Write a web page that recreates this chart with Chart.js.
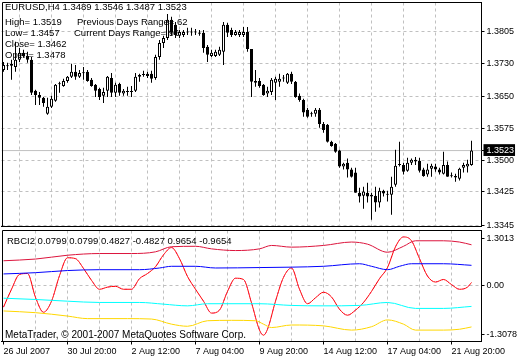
<!DOCTYPE html>
<html lang="en">
<head>
<meta charset="UTF-8">
<script src="https://cdn.jsdelivr.net/npm/chart.js@4.4.0/dist/chart.umd.min.js"></script>
<style>
  body { margin: 0; background: #fff; }
  #wrap { position: relative; width: 520px; height: 360px; overflow: hidden; font-family: "Liberation Sans", Arial, sans-serif; }
  #main { position: absolute; left: 0; top: 0; }
  #sub { position: absolute; left: 0; top: 228px; }
  .txt { position: absolute; white-space: pre; font-size: 9.5px; line-height: 11px; color: #000; }
</style>
</head>
<body>
<div id="wrap">
  <canvas id="main" width="520" height="228"></canvas>
  <canvas id="sub" width="520" height="132"></canvas>
  <div class="txt" style="left:5px;top:1px">EURUSD,H4 1.3489 1.3546 1.3487 1.3523</div>
  <div class="txt" style="left:5px;top:16px">High= 1.3519</div>
  <div class="txt" style="left:77px;top:16px">Previous Days Range= 62</div>
  <div class="txt" style="left:5px;top:27px">Low= 1.3457</div>
  <div class="txt" style="left:74px;top:27px">Current Days Range= 96</div>
  <div class="txt" style="left:5px;top:38px">Close= 1.3462</div>
  <div class="txt" style="left:5px;top:49px">Open= 1.3478</div>
  <div class="txt" style="left:7px;top:235px">RBCI2 0.0799 0.0799 0.4827 -0.4827 0.9654 -0.9654</div>
  <div class="txt" style="left:5px;top:329px;font-size:10px">MetaTrader, © 2001-2007 MetaQuotes Software Corp.</div>
</div>
<script>
// EURUSD H4 candles, one entry per bar
const open = [1.3714,1.3724,1.3724,1.3721,1.3738,1.3755,1.3747,1.3738,1.3665,1.3655,
  1.3648,1.3610,1.3627,1.3641,1.3681,1.3676,1.3688,1.3698,1.3710,1.3698,
  1.3707,1.3710,1.3691,1.3679,1.3669,1.3653,1.3665,1.3695,1.3660,1.3681,
  1.3658,1.3662,1.3663,1.3665,1.3698,1.3702,1.3705,1.3705,1.3695,1.3745,
  1.3778,1.3790,1.3833,1.3821,1.3795,1.3797,1.3804,1.3803,1.3804,1.3803,
  1.3802,1.3769,1.3747,1.3747,1.3750,1.3757,1.3821,1.3809,1.3797,1.3797,
  1.3797,1.3804,1.3764,1.3688,1.3688,1.3679,1.3658,1.3662,1.3684,1.3686,
  1.3695,1.3684,1.3705,1.3686,1.3653,1.3643,1.3620,1.3610,1.3610,1.3620,
  1.3586,1.3584,1.3544,1.3539,1.3523,1.3485,1.3494,1.3478,1.3471,1.3423,
  1.3416,1.3423,1.3414,1.3416,1.3400,1.3428,1.3418,1.3418,1.3442,1.3489,
  1.3489,1.3475,1.3494,1.3501,1.3499,1.3478,1.3466,1.3480,1.3485,1.3478,
  1.3468,1.3489,1.3463,1.3463,1.3456,1.3482,1.3485,1.3489];
const high = [1.3733,1.3731,1.3738,1.3781,1.3766,1.3762,1.3757,1.3745,1.3667,1.3662,
  1.3650,1.3648,1.3653,1.3681,1.3686,1.3693,1.3700,1.3729,1.3726,1.3714,
  1.3721,1.3714,1.3695,1.3681,1.3672,1.3672,1.3700,1.3707,1.3684,1.3684,
  1.3669,1.3674,1.3676,1.3707,1.3705,1.3712,1.3710,1.3712,1.3750,1.3785,
  1.3795,1.3847,1.3840,1.3828,1.3809,1.3809,1.3814,1.3814,1.3811,1.3809,
  1.3809,1.3773,1.3762,1.3762,1.3769,1.3828,1.3826,1.3814,1.3809,1.3809,
  1.3816,1.3816,1.3764,1.3714,1.3695,1.3681,1.3674,1.3695,1.3698,1.3705,
  1.3702,1.3707,1.3710,1.3688,1.3658,1.3646,1.3624,1.3615,1.3624,1.3624,
  1.3591,1.3586,1.3546,1.3541,1.3525,1.3494,1.3504,1.3482,1.3482,1.3435,
  1.3437,1.3447,1.3423,1.3437,1.3435,1.3430,1.3428,1.3461,1.3525,1.3544,
  1.3494,1.3506,1.3504,1.3508,1.3506,1.3482,1.3492,1.3492,1.3492,1.3482,
  1.3520,1.3497,1.3471,1.3468,1.3482,1.3494,1.3501,1.3546];
const low = [1.3710,1.3714,1.3691,1.3710,1.3733,1.3743,1.3731,1.3655,1.3631,1.3631,
  1.3627,1.3608,1.3624,1.3639,1.3660,1.3674,1.3684,1.3695,1.3691,1.3695,
  1.3691,1.3686,1.3674,1.3650,1.3643,1.3636,1.3650,1.3650,1.3650,1.3653,
  1.3653,1.3653,1.3650,1.3662,1.3686,1.3698,1.3695,1.3684,1.3691,1.3738,
  1.3766,1.3785,1.3795,1.3790,1.3790,1.3792,1.3797,1.3795,1.3797,1.3795,
  1.3755,1.3733,1.3745,1.3745,1.3747,1.3726,1.3792,1.3792,1.3795,1.3792,
  1.3792,1.3757,1.3650,1.3674,1.3672,1.3653,1.3650,1.3655,1.3643,1.3674,
  1.3686,1.3681,1.3681,1.3648,1.3639,1.3603,1.3601,1.3603,1.3603,1.3577,
  1.3565,1.3542,1.3532,1.3518,1.3482,1.3478,1.3459,1.3459,1.3423,1.3400,
  1.3385,1.3400,1.3359,1.3378,1.3388,1.3414,1.3402,1.3371,1.3437,1.3485,
  1.3466,1.3473,1.3489,1.3489,1.3471,1.3461,1.3461,1.3461,1.3473,1.3466,
  1.3466,1.3461,1.3459,1.3449,1.3452,1.3471,1.3471,1.3487];
const close = [1.3726,1.3723,1.3729,1.3738,1.3755,1.3747,1.3738,1.3660,1.3655,1.3648,
  1.3636,1.3627,1.3646,1.3679,1.3680,1.3688,1.3698,1.3710,1.3698,1.3707,
  1.3706,1.3688,1.3676,1.3665,1.3650,1.3662,1.3698,1.3660,1.3679,1.3660,
  1.3665,1.3663,1.3662,1.3698,1.3702,1.3703,1.3700,1.3693,1.3745,1.3778,
  1.3790,1.3833,1.3802,1.3797,1.3804,1.3804,1.3803,1.3804,1.3803,1.3800,
  1.3766,1.3750,1.3755,1.3757,1.3762,1.3821,1.3802,1.3797,1.3804,1.3804,
  1.3804,1.3764,1.3686,1.3684,1.3676,1.3655,1.3665,1.3691,1.3693,1.3693,
  1.3694,1.3705,1.3686,1.3650,1.3643,1.3613,1.3603,1.3609,1.3620,1.3586,
  1.3572,1.3544,1.3534,1.3520,1.3485,1.3492,1.3478,1.3461,1.3423,1.3414,
  1.3426,1.3414,1.3418,1.3400,1.3428,1.3421,1.3419,1.3437,1.3487,1.3490,
  1.3473,1.3494,1.3501,1.3497,1.3475,1.3463,1.3478,1.3487,1.3478,1.3471,
  1.3489,1.3461,1.3462,1.3459,1.3480,1.3489,1.3492,1.3523];

// RBCI2 indicator, read at the bars listed
const rbciBars = [0,2,4,6,8,10,12,14,16,18,20,22,24,26,28,30,32,34,36,38,40,42,44,46,48,50,52,54,56,58,60,62,64,65,66,68,70,72,74,76,78,80,82,84,86,88,90,92,94,96,98,100,102,104,106,108,110,112,114,116,117];
const rbciVals = [-0.50,-0.08,0.27,0.29,-0.27,-0.62,-0.36,0.24,0.66,0.64,0.41,0.13,-0.08,-0.03,-0.01,-0.08,-0.08,0.17,0.29,0.45,0.73,0.90,0.64,0.22,-0.08,-0.36,-0.64,-0.57,-0.13,0.18,0.15,-0.40,-1.04,-1.16,-1.02,-0.36,0.20,0.42,-0.08,-0.42,-0.28,-0.15,-0.26,-0.55,-0.69,-0.57,-0.39,-0.13,0.17,0.43,0.92,1.15,1.06,0.64,0.23,0.09,0.15,0.03,-0.08,-0.03,0.0799];
const upper2Bars = [0,8,16,24,32,38,42,48,52,58,64,67,72,80,87,91,96,100,103,110,114,117];
const upper2Vals = [0.59,0.63,0.72,0.76,0.76,0.80,0.92,0.93,0.87,0.83,0.87,0.95,0.91,0.95,1.03,0.98,0.79,0.93,1.06,1.06,1.03,0.9654];
const upper1Bars = [0,8,16,24,34,39,42,48,53,64,72,80,89,92,96,99,102,110,117];
const upper1Vals = [0.28,0.31,0.36,0.38,0.38,0.42,0.46,0.46,0.42,0.43,0.44,0.46,0.52,0.46,0.38,0.46,0.52,0.52,0.4827];
const lower1Bars = [0,8,16,24,34,40,46,51,64,72,80,89,96,103,110,117];
const lower1Vals = [-0.29,-0.32,-0.36,-0.39,-0.39,-0.43,-0.47,-0.42,-0.42,-0.46,-0.47,-0.46,-0.39,-0.53,-0.53,-0.4827];
const lower2Bars = [0,8,16,21,31,37,42,46,51,57,63,65,67,72,80,87,92,96,100,103,110,114,117];
const lower2Vals = [-0.59,-0.63,-0.71,-0.77,-0.77,-0.78,-0.90,-0.95,-0.82,-0.81,-0.82,-0.90,-0.98,-0.92,-0.94,-1.04,-0.96,-0.80,-0.90,-1.04,-1.04,-1.02,-0.9654];

// axes
const gridBars = [0,8,16,24,32,40,48,56,64,72,80,88,96,104,112];
const xTickLabels = ['26 Jul 2007','30 Jul 20:00','2 Aug 12:00','7 Aug 04:00','9 Aug 20:00','14 Aug 12:00','17 Aug 04:00','21 Aug 20:00'];
const priceTicks = [1.3805,1.3730,1.3650,1.3575,1.3500,1.3425,1.3345];
const subTickValues = [1.115, 0, -1.145];
const subTickLabels = ['1.3013','0.00','-1.3078'];

const lastClose = close[close.length - 1];
const none = 'rgba(0,0,0,0)';
const font = { family: 'Liberation Sans', size: 9 };

Chart.defaults.font.family = 'Liberation Sans';
Chart.defaults.font.size = 9;
Chart.defaults.color = '#000';

const framePlugin = {
  id: 'frame',
  afterDraw(chart) {
    const { ctx, chartArea: a } = chart;
    const x = Math.round(a.left) + 0.5, y = Math.floor(a.top) + 0.5;
    ctx.save();
    ctx.strokeStyle = '#000';
    ctx.lineWidth = 1;
    ctx.beginPath();
    ctx.moveTo(x, a.bottom);
    ctx.lineTo(x, y);
    ctx.lineTo(a.right, y);
    ctx.stroke();
    ctx.restore();
  }
};

function xAxis(showLabels) {
  return {
    type: 'linear', min: -0.5, max: 119.5, offset: false,
    afterBuildTicks: s => { s.ticks = gridBars.map(v => ({ value: v })); },
    afterFit: s => { s.height = showLabels ? 18.5 : 0; s.paddingLeft = 0; s.paddingRight = 0; },
    grid: {
      color: c => c.tick && c.tick.value > 0 ? '#c0c0c0' : none,
      drawTicks: showLabels, tickLength: 3,
      tickColor: c => c.tick && c.tick.value % 16 === 0 ? '#000' : none
    },
    border: { color: '#000', dash: [3, 3] },
    ticks: {
      display: showLabels, autoSkip: false, maxRotation: 0, align: 'start', padding: 2, font,
      callback: v => v % 16 === 0 ? xTickLabels[v / 16] : ''
    }
  };
}

const isBid = c => c.tick && c.tick.value === lastClose;

new Chart(document.getElementById('main'), {
  type: 'bar',
  data: {
    datasets: [{
      data: open.map((o, i) => ({ x: i, y: [o, close[i]] })),
      backgroundColor: open.map((o, i) => close[i] > o ? '#fff' : '#000'),
      borderColor: '#000', borderWidth: 1, borderSkipped: false,
      barThickness: 3, minBarLength: 1, inflateAmount: 0, grouped: false, order: 1
    }, {
      data: high.map((h, i) => ({ x: i, y: [low[i], h] })),
      backgroundColor: '#000', borderWidth: 0,
      barThickness: 1, inflateAmount: 0, grouped: false, order: 2
    }, {
      type: 'line',
      data: [{ x: -0.5, y: lastClose }, { x: 119.5, y: lastClose }],
      borderColor: '#c0c0c0', borderWidth: 1, pointRadius: 0, order: 3
    }]
  },
  options: {
    responsive: false, animation: false, events: [],
    layout: { padding: { left: 1.5, top: 2.5, right: 0, bottom: 1.5 } },
    plugins: { legend: { display: false }, tooltip: { enabled: false } },
    scales: {
      x: xAxis(false),
      y: {
        position: 'right', min: 1.3343, max: 1.3874,
        afterBuildTicks: s => { s.ticks = priceTicks.concat([lastClose]).map(v => ({ value: v })); },
        afterFit: s => { s.width = 38.5; s.paddingTop = 0; s.paddingBottom = 0; },
        grid: { color: c => isBid(c) ? none : '#c0c0c0', tickLength: 3, tickColor: '#000' },
        border: { color: '#000', dash: [3, 3] },
        ticks: {
          autoSkip: false, padding: 2, font,
          color: c => isBid(c) ? '#fff' : '#000',
          showLabelBackdrop: c => isBid(c),
          backdropColor: '#000',
          backdropPadding: { left: 3, right: 1, top: 1, bottom: 0 },
          callback: v => v.toFixed(4)
        }
      }
    }
  },
  plugins: [framePlugin]
});

const pts = (bars, vals) => bars.map((b, i) => ({ x: b, y: vals[i] }));
const lineDs = (data, color, extra) => Object.assign({
  data, borderColor: color, borderWidth: 1, pointRadius: 0,
  cubicInterpolationMode: 'monotone', fill: false
}, extra || {});

new Chart(document.getElementById('sub'), {
  type: 'line',
  data: {
    datasets: [
      lineDs(pts(upper2Bars, upper2Vals), '#dc143c'),
      lineDs(pts(upper1Bars, upper1Vals), '#0000ff'),
      lineDs(pts(lower1Bars, lower1Vals), '#00ffff'),
      lineDs(pts(lower2Bars, lower2Vals), '#ffd700'),
      lineDs(pts(rbciBars, rbciVals), '#ff0000'),
      lineDs(pts(rbciBars, rbciVals), '#ee82ee', { borderDash: [2, 4] })
    ]
  },
  options: {
    responsive: false, animation: false, events: [],
    layout: { padding: { left: 1.5, top: 2.5, right: 0, bottom: 0 } },
    plugins: { legend: { display: false }, tooltip: { enabled: false } },
    scales: {
      x: xAxis(true),
      y: {
        position: 'right', min: -1.3078, max: 1.3013,
        afterBuildTicks: s => { s.ticks = subTickValues.map(v => ({ value: v })); },
        afterFit: s => { s.width = 38.5; s.paddingTop = 0; s.paddingBottom = 0; },
        grid: { color: c => c.tick && c.tick.value === 0 ? '#c0c0c0' : none, tickLength: 3, tickColor: '#000' },
        border: { color: '#000', dash: [3, 3] },
        ticks: { autoSkip: false, padding: 2, font, callback: (v, i) => subTickLabels[i] }
      }
    }
  },
  plugins: [framePlugin]
});
</script>
</body>
</html>
